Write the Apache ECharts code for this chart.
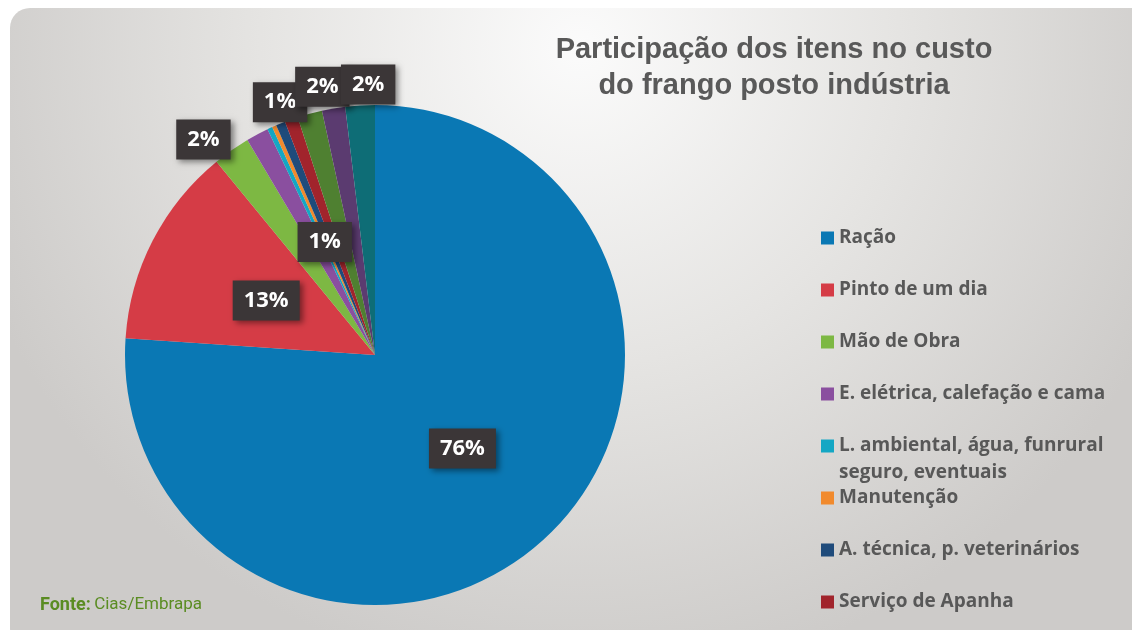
<!DOCTYPE html>
<html>
<head>
<meta charset="utf-8">
<script src="https://cdn.jsdelivr.net/npm/echarts@6/dist/echarts.min.js"></script>
<style>
html, body { margin: 0; padding: 0; background: #fff; }
#chart { width: 1132px; height: 630px; }
</style>
</head>
<body>
<div id="chart"></div>
<script>
// itens do custo (%), na ordem das fatias a partir do topo, sentido horário
const itemNames = [
    'Ração',
    'Pinto de um dia',
    'Mão de Obra',
    'E. elétrica, calefação e cama',
    'L. ambiental, água, funrural seguro, eventuais',
    'Manutenção',
    'A. técnica, p. veterinários',
    'Serviço de Apanha',
    'Outros 1',
    'Outros 2',
    'Outros 3'
];
const itemValues = [76, 13, 2.4, 1.45, 0.33, 0.28, 0.6, 0.86, 1.6, 1.5, 1.9];

const colors = ['#0a78b4', '#d53c46', '#7db843', '#8a4f9f', '#14a7c4', '#f18a2d',
                '#1f4b7b', '#a1242c', '#4f8031', '#5b3b70', '#0e6d76'];

// quais fatias têm rótulo e onde
const labelCfg = {
    0: { position: 'inside' },
    1: { position: 'inside', offset: [5, 4] },
    2: { position: 'outside', offset: [6, -1] },
    3: { position: 'inside', offset: [10, 0] },
    7: { position: 'outside', offset: [20, -6] },
    9: { position: 'outside', offset: [18, -10] },
    10: { position: 'outside', offset: [36, -9] }
};

const chart = echarts.init(document.getElementById('chart'));

const labelBox = {
    color: '#fff',
    fontSize: 22,
    fontWeight: 'bold',
    fontFamily: 'Open Sans',
    backgroundColor: '#3b3637',
    padding: [10, 11, 8, 11],
    shadowColor: 'rgba(0,0,0,0.45)',
    shadowBlur: 6,
    shadowOffsetX: 3,
    shadowOffsetY: 3,
    formatter: p => Math.round(p.value) + '%'
};

const pieData = itemNames.map((name, i) => {
    const cfg = labelCfg[i];
    return {
        name: name,
        value: itemValues[i],
        itemStyle: { color: colors[i] },
        label: cfg ? Object.assign({ show: true }, cfg) : { show: false }
    };
});

const legendText = {
    color: '#585858',
    fontSize: 19,
    fontWeight: 'bold',
    fontFamily: 'Open Sans',
    lineHeight: 24
};

function legendAt(top, names, extra) {
    return Object.assign({
        orient: 'vertical',
        left: 821,
        top: top,
        padding: 0,
        itemGap: 28,
        itemWidth: 13,
        itemHeight: 13,
        icon: 'rect',
        data: names,
        textStyle: legendText
    }, extra || {});
}

const option = {
    animation: false,
    graphic: [
        {
            type: 'rect',
            silent: true,
            z: -10,
            shape: { x: 10, y: 8, width: 1140, height: 640, r: 20 },
            style: {
                fill: new echarts.graphic.RadialGradient(0.5, 0.06, 1.0, [
                    { offset: 0, color: '#fbfbfb' },
                    { offset: 0.5, color: '#e5e4e2' },
                    { offset: 1, color: '#cdcbc9' }
                ])
            }
        },
        {
            type: 'text',
            left: 40,
            top: 596,
            style: {
                text: '{b|Fonte:} {r|Cias/Embrapa}',
                rich: {
                    b: { fill: '#5a8c22', fontWeight: 'bold', fontSize: 18, fontFamily: 'Roboto' },
                    r: { fill: '#5a8c22', fontSize: 17, fontFamily: 'Roboto' }
                }
            }
        }
    ],
    title: {
        text: 'Participação dos itens no custo\ndo frango posto indústria',
        left: 769,
        top: 27,
        textAlign: 'center',
        textStyle: {
            color: '#595959',
            fontSize: 29,
            fontWeight: 'bold',
            fontFamily: 'Liberation Sans',
            lineHeight: 36,
            align: 'center'
        }
    },
    legend: [
        legendAt(226, itemNames.slice(0, 4)),
        // linha vazia no início para que a primeira linha fique alinhada ao marcador
        legendAt(405.5, [itemNames[4]], {
            formatter: n => '\n' + n.replace('funrural ', 'funrural\n'),
            textStyle: Object.assign({}, legendText, { lineHeight: 27 })
        }),
        legendAt(486, itemNames.slice(5, 8))
    ],
    series: [{
        type: 'pie',
        center: [375, 355],
        radius: 250,
        startAngle: 90,
        clockwise: true,
        avoidLabelOverlap: false,
        labelLayout: { hideOverlap: false },
        labelLine: { show: false, length: 12, length2: 0 },
        label: Object.assign({ distanceToLabelLine: 0 }, labelBox),
        emphasis: { scale: false },
        data: pieData
    }]
};

chart.setOption(option);
</script>
</body>
</html>
